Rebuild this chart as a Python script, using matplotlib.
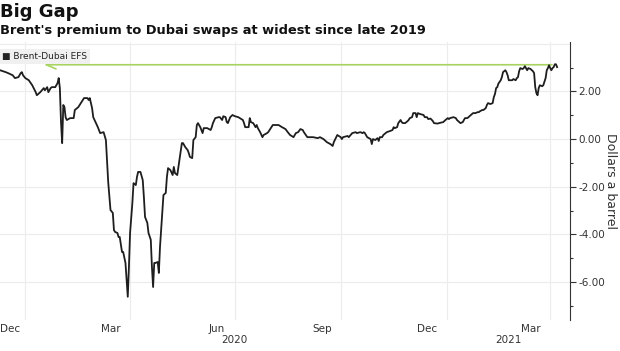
import pandas as pd
import matplotlib
matplotlib.use("Agg")
import matplotlib.pyplot as plt

# Brent-Dubai EFS, dollars a barrel (days counted from 2020-01-01)
days = [-22, -17, -15, -11, -9, -6, -4, -3, -2, 0, 3, 6, 9, 10, 13, 16, 17, 19, 20, 22,
        23, 26, 28, 29, 30, 31, 32, 33, 34, 35, 36, 39, 42, 43, 46, 50, 51, 54, 55, 56,
        58, 59, 61, 63, 65, 68, 70, 71, 72, 74, 76, 77, 78, 80, 81, 82, 84, 85, 87, 88,
        89, 90, 91, 93, 94, 96, 97, 98, 100, 102, 103, 104, 106, 107, 109, 110, 111, 112, 113, 115,
        116, 117, 119, 120, 122, 123, 124, 126, 128, 129, 130, 132, 133, 135, 136, 137, 139, 141, 142, 143,
        145, 146, 148, 149, 150, 152, 154, 155, 158, 161, 162, 163, 165, 168, 169, 171, 172, 174, 175, 176,
        178, 180, 182, 185, 189, 190, 191, 194, 195, 196, 198, 200, 201, 202, 204, 206, 207, 210, 211, 215,
        217, 220, 223, 226, 228, 230, 233, 235, 237, 239, 241, 242, 245, 248, 250, 254, 256, 259, 262, 265,
        267, 268, 271, 274, 275, 276, 280, 281, 284, 287, 288, 291, 293, 294, 295, 297, 300, 301, 302, 304,
        306, 307, 308, 310, 311, 313, 314, 317, 319, 320, 321, 323, 324, 326, 327, 328, 330, 332, 333, 334,
        336, 337, 339, 340, 341, 343, 346, 347, 349, 350, 352, 354, 355, 358, 361, 363, 365, 367, 368, 369,
        372, 374, 375, 378, 380, 381, 382, 384, 385, 387, 388, 389, 391, 393, 394, 395, 397, 398, 400, 401,
        402, 404, 406, 407, 408, 409, 410, 411, 413, 414, 415, 417, 418, 419, 420, 421, 423, 424, 426, 427,
        428, 429, 430, 432, 433, 434, 436, 437, 439, 440, 441, 442, 443, 444, 445, 446, 447, 449, 450, 452,
        453, 454, 455, 456, 457, 458, 459, 460, 461, 462]
efs = [2.89, 2.81, 2.77, 2.68, 2.56, 2.60, 2.77, 2.81, 2.68, 2.56, 2.47, 2.26, 1.97, 1.84, 1.97, 2.14, 2.05, 2.18, 1.97, 2.14,
       2.18, 2.18, 2.35, 2.56, 2.14, 0.71, -0.17, 1.43, 1.34, 0.92, 0.80, 0.88, 0.88, 1.22, 1.34, 1.64, 1.72, 1.72, 1.64, 1.72,
       1.30, 0.92, 0.71, 0.50, 0.25, 0.29, -0.04, -0.88, -1.80, -2.98, -3.10, -3.82, -3.90, -3.94, -4.11, -4.11, -4.74, -4.74, -5.20, -5.91,
       -6.62, -5.37, -3.94, -2.68, -1.85, -1.93, -1.59, -1.38, -1.38, -1.72, -2.43, -3.27, -3.52, -3.94, -4.23, -5.37, -6.21, -5.20, -5.20, -5.16,
       -5.62, -4.53, -3.10, -2.35, -2.26, -1.59, -1.22, -1.30, -1.51, -1.17, -1.43, -1.51, -1.17, -0.46, -0.17, -0.17, -0.34, -0.46, -0.59, -0.75,
       -0.80, -0.04, 0.08, 0.59, 0.67, 0.50, 0.25, 0.46, 0.46, 0.38, 0.50, 0.67, 0.88, 0.92, 0.92, 0.80, 0.96, 0.92, 0.71, 0.67,
       0.92, 1.01, 0.96, 0.92, 0.80, 0.67, 0.50, 0.50, 0.88, 0.71, 0.67, 0.50, 0.59, 0.46, 0.29, 0.08, 0.17, 0.25, 0.29, 0.59,
       0.59, 0.59, 0.50, 0.42, 0.29, 0.17, 0.08, 0.25, 0.29, 0.42, 0.38, 0.29, 0.08, 0.08, 0.08, 0.04, 0.08, 0.00, -0.13, -0.21,
       -0.29, -0.13, 0.17, 0.08, 0.00, 0.08, 0.13, 0.08, 0.25, 0.29, 0.25, 0.29, 0.25, 0.29, 0.25, 0.08, 0.00, -0.21, 0.00, -0.04,
       0.04, -0.08, 0.08, 0.08, 0.17, 0.25, 0.29, 0.34, 0.38, 0.50, 0.46, 0.50, 0.67, 0.80, 0.71, 0.67, 0.67, 0.75, 0.80, 0.88,
       0.92, 1.09, 1.09, 0.92, 1.09, 1.05, 1.01, 0.92, 0.92, 0.84, 0.86, 0.76, 0.67, 0.65, 0.69, 0.71, 0.80, 0.88, 0.84, 0.88,
       0.92, 0.88, 0.80, 0.67, 0.71, 0.80, 0.88, 0.88, 0.92, 1.01, 1.05, 1.09, 1.09, 1.13, 1.13, 1.17, 1.22, 1.22, 1.30, 1.43,
       1.51, 1.47, 1.51, 1.76, 1.89, 2.14, 2.18, 2.33, 2.47, 2.60, 2.81, 2.89, 2.81, 2.68, 2.47, 2.47, 2.47, 2.52, 2.47, 2.56,
       2.60, 2.85, 2.98, 2.94, 2.98, 3.06, 2.89, 2.98, 2.94, 2.89, 2.85, 2.77, 2.18, 1.93, 1.84, 2.14, 2.26, 2.22, 2.26, 2.56,
       2.89, 2.98, 3.10, 2.98, 2.89, 2.98, 3.02, 3.14, 3.14, 3.02]

month_labels = ["Dec", "Mar", "Jun", "Sep", "Dec", "Mar"]
month_pos = ["2019-12-19", "2020-03-15", "2020-06-15", "2020-09-15", "2020-12-15", "2021-03-15"]
year_labels = ["2020", "2021"]
year_pos = ["2020-07-01", "2021-02-24"]
grid_dates = ["2020-01-01", "2020-04-01", "2020-07-01", "2020-10-01", "2021-01-01", "2021-04-01"]
gap_level = 3.12

dates = pd.Timestamp("2020-01-01") + pd.to_timedelta(days, unit="D")

fig = plt.figure(figsize=(6.2, 3.51), dpi=100)
ax = fig.add_axes([0.0, 0.088, 0.919, 0.792])

for g in grid_dates:
    ax.axvline(pd.Timestamp(g), color="#ececec", lw=0.8, zorder=0)
for yv in [4, 2, 0, -2, -4, -6]:
    ax.axhline(yv, color="#ececec", lw=0.8, zorder=0)

ax.plot(dates, efs, color="#1e1e1e", lw=1.3, zorder=3)

# green reference arrow at the latest high
ax.annotate("", xy=(pd.Timestamp("2020-01-15"), gap_level),
            xytext=(pd.Timestamp("2021-04-05"), gap_level),
            arrowprops=dict(arrowstyle="->,head_length=0.7,head_width=0.3", color="#a6d45e", lw=1.2),
            zorder=2)

ax.set_xlim(pd.Timestamp("2019-12-10"), pd.Timestamp("2021-04-18"))
ax.set_ylim(-7.6, 4.07)

for s in ["left", "top", "bottom"]:
    ax.spines[s].set_visible(False)
ax.spines["right"].set_color("#333333")
ax.yaxis.tick_right()
ax.set_yticks([2, 0, -2, -4, -6])
ax.set_yticklabels(["2.00", "0.00", "-2.00", "-4.00", "-6.00"])
ax.set_yticks([3, 1, -1, -3, -5, -7], minor=True)
ax.tick_params(axis="y", which="major", length=4, width=0.8, color="#333333",
               labelsize=7.5, labelcolor="#333333", pad=2)
ax.tick_params(axis="y", which="minor", length=2.5, width=0.8, color="#333333")
ax.yaxis.set_label_position("right")
ax.set_ylabel("Dollars a barrel", rotation=270, fontsize=9, color="#333333", labelpad=9)

ax.set_xticks([pd.Timestamp(d) for d in month_pos])
ax.set_xticklabels(month_labels)
ax.tick_params(axis="x", length=0, labelsize=7.5, labelcolor="#333333", pad=3)
for lab, pos in zip(year_labels, year_pos):
    ax.text(pd.Timestamp(pos), -0.055, lab, transform=ax.get_xaxis_transform(),
            ha="center", va="top", fontsize=7.5, color="#333333")

# legend box
ax.text(0.004, 0.965, "\u25a0 Brent-Dubai EFS", transform=ax.transAxes, ha="left", va="top",
        fontsize=6.5, color="#222222",
        bbox=dict(boxstyle="square,pad=0.35", fc="#f0f0f0", ec="none"), zorder=4)

fig.text(0.0, 0.965, "Big Gap", fontsize=13, fontweight="bold", ha="left", va="center", color="#111111")
fig.text(0.0, 0.912, "Brent's premium to Dubai swaps at widest since late 2019", fontsize=9.4,
         fontweight="bold", ha="left", va="center", color="#111111")

fig.savefig("out.png", dpi=100)
